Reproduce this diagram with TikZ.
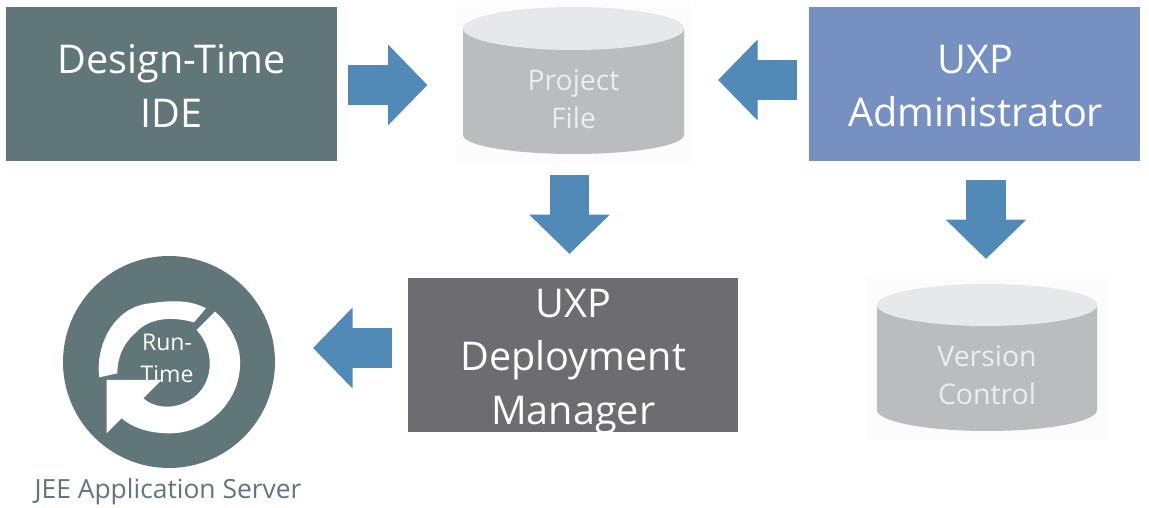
\documentclass[tikz,border=0pt]{standalone}
\usepackage{fontspec}
\setmainfont{Open Sans}
\usetikzlibrary{arrows.meta}
\definecolor{teal}{HTML}{607679}
\definecolor{admin}{HTML}{7690C2}
\definecolor{deploy}{HTML}{6D6D71}
\definecolor{flow}{HTML}{528AB7}
\definecolor{cylbody}{HTML}{BBBCBE}
\definecolor{cyltop}{HTML}{E7E8EA}
\definecolor{halo}{HTML}{FCFCFC}
\definecolor{cyltext}{HTML}{EDEDED}
\tikzset{
  boxnode/.style={minimum width=331pt,minimum height=154pt,inner sep=0pt},
  boxtext/.style={text=white,align=center,inner sep=0pt,font=\fontsize{39.6}{53.5}\selectfont},
  cyltxt/.style={text=cyltext,align=center,font=\fontsize{28.4}{38}\selectfont,inner sep=0pt},
  blockflow/.style={draw=flow,line width=39.5pt,-{Triangle[length=39.5pt,width=78.5pt]}},
}
\begin{document}
\begin{tikzpicture}[x=1pt,y=-1pt]
\useasboundingbox (0,0) rectangle (1149,508);
% boxes
\node[boxnode,fill=teal,anchor=north west,label={[boxtext,yshift=-2pt]center:{Design-Time\\IDE}}] (ide) at (6,7) {};
\node[boxnode,fill=admin,anchor=north west,label={[boxtext,yshift=-2pt,xshift=1pt]center:{UXP\\Administrator}}] (adm) at (809,7) {};
\node[boxnode,fill=deploy,anchor=north west,minimum width=330pt,label={[boxtext,yshift=-6pt]center:{UXP\\Deployment\\Manager}}] (dep) at (408,278) {};
% project cylinder
\fill[halo] (456,2) rectangle (690,163);
\fill[cylbody] (463,29) -- (463,135) arc[start angle=180,end angle=0,x radius=110.5,y radius=19] -- (684,29) -- cycle;
\fill[cyltop] (573.5,28.5) ellipse[x radius=110.5,y radius=21.5];
\node[cyltxt] (prj) at (573.5,99) {Project\\File};
% version cylinder
\fill[halo] (867,278) rectangle (1107,440);
\fill[cylbody] (877,307) -- (877,410) arc[start angle=180,end angle=0,x radius=110,y radius=21] -- (1097,307) -- cycle;
\fill[cyltop] (987,305) ellipse[x radius=110,y radius=21];
\node[cyltxt] (ver) at (987,375) {Version\\Control};
% run-time circle
\fill[teal] (169,362) circle[radius=106];
\begin{scope}[shift={(40,270)},x=0.3333pt,y=-0.3333pt]
\fill[white] (178,322) .. controls (165,230) and (220,110) .. (330,100) .. controls (400,90) and (450,90) .. (498,115)
  -- (462,157) .. controls (400,140) and (330,140) .. (285,190) .. controls (245,225) and (232,270) .. (232,310) -- cycle;
\fill[white] (525,125) .. controls (580,170) and (605,240) .. (600,290) .. controls (595,400) and (500,490) .. (390,490)
  .. controls (330,490) and (280,475) .. (245,445) -- (200,490) -- (200,330) -- (365,330) -- (310,385)
  .. controls (350,420) and (420,420) .. (470,375) .. controls (520,330) and (525,240) .. (470,180) -- cycle;
\end{scope}
\node[text=white,align=center,inner sep=0pt,font=\fontsize{23}{32}\selectfont] (run) at (167,358) {Run-\\Time};
\node[text=teal,inner sep=0pt,font=\fontsize{26.4}{30}\selectfont] (jee) at (168,492) {JEE Application Server};
% flows
\coordinate (a1) at (348,85); \coordinate (a2) at (427.5,85);
\coordinate (b1) at (797,80); \coordinate (b2) at (718,80);
\coordinate (c1) at (569.5,175); \coordinate (c2) at (569.5,254);
\coordinate (d1) at (986,180); \coordinate (d2) at (986,259);
\coordinate (e1) at (392,348); \coordinate (e2) at (313,348);
\draw[blockflow] (a1) -- (a2);
\draw[blockflow] (b1) -- (b2);
\draw[blockflow] (c1) -- (c2);
\draw[blockflow] (d1) -- (d2);
\draw[blockflow] (e1) -- (e2);
\end{tikzpicture}
\end{document}
